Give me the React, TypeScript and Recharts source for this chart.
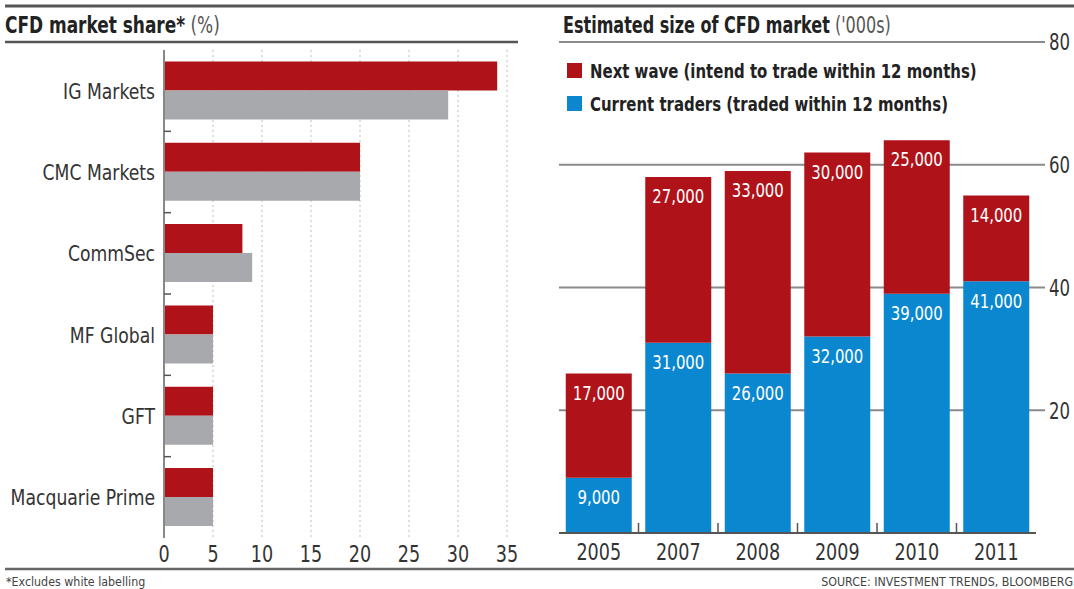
import React from "react";
import {
  BarChart,
  Bar,
  XAxis,
  YAxis,
  CartesianGrid,
  LabelList,
  Legend,
} from "recharts";

const FONT = "'Liberation Sans Narrow', 'Arial Narrow', 'DejaVu Sans Condensed', sans-serif";

// Left chart: CFD market share (%)
const brokers = ["IG Markets", "CMC Markets", "CommSec", "MF Global", "GFT", "Macquarie Prime"];
const shareRed = [34, 20, 8, 5, 5, 5];
const shareGray = [29, 20, 9, 5, 5, 5];
const shareTicks = [0, 5, 10, 15, 20, 25, 30, 35];

// Right chart: Estimated size of CFD market ('000s)
const years = ["2005", "2007", "2008", "2009", "2010", "2011"];
const currentTraders = [9, 31, 26, 32, 39, 41];
const nextWave = [17, 27, 33, 30, 25, 14];
const sizeTicks = [20, 40, 60, 80];

const RED = "#B0121A";
const GRAY = "#A7A9AC";
const BLUE = "#0A87CF";

const leftData = brokers.map((name, i) => ({ name, red: shareRed[i], gray: shareGray[i] }));
const rightData = years.map((year, i) => ({ year, current: currentTraders[i], next: nextWave[i] }));

const fmtThousands = (v: any) => (Number(v) * 1000).toLocaleString("en-US");

// horizontally condensed text (the reference uses a tall condensed face)
const SText = (props: any) => {
  const { x, y, sx = 0.85, children, ...rest } = props;
  return (
    <g transform={`translate(${x},${y}) scale(${sx},1)`}>
      <text x={0} y={0} fontFamily={FONT} {...rest}>
        {children}
      </text>
    </g>
  );
};

const CatTick = (props: any) => {
  const { x, y, payload, index, visibleTicksCount } = props;
  const half = payload && payload.offset ? payload.offset : 0;
  return (
    <g>
      <SText x={x} y={y} sx={0.87} dy="0.36em" textAnchor="end" fontSize={22} fill="#333">
        {payload.value}
      </SText>
      {index < visibleTicksCount - 1 && (
        <line x1={x + 9} x2={x + 16} y1={y + half} y2={y + half} stroke="#555" strokeWidth={1.5} />
      )}
    </g>
  );
};

const ShareTick = (props: any) => {
  const { x, y, payload } = props;
  return (
    <SText x={x} y={y} sx={0.85} dy="0.71em" textAnchor="middle" fontSize={23} fill="#333">
      {payload.value}
    </SText>
  );
};

const YearTick = (props: any) => {
  const { x, y, payload, index, visibleTicksCount } = props;
  const half = payload && payload.offset ? payload.offset : 0;
  const axisY = y - 11;
  return (
    <g>
      <SText x={x} y={y} sx={0.85} dy="0.71em" textAnchor="middle" fontSize={23} fill="#333">
        {payload.value}
      </SText>
      {index < visibleTicksCount - 1 && (
        <line x1={x + half} x2={x + half} y1={axisY} y2={axisY - 10} stroke="#555" strokeWidth={1.5} />
      )}
    </g>
  );
};

const SizeTick = (props: any) => {
  const { x, y, payload } = props;
  return (
    <SText x={x} y={y} sx={0.8} dy="0.36em" textAnchor="start" fontSize={23} fill="#333">
      {payload.value}
    </SText>
  );
};

const ValueLabel = (props: any) => {
  const { x, y, width, value } = props;
  return (
    <SText x={x + width / 2} y={y + 12} sx={0.83} dy="0.71em" textAnchor="middle" fontSize={20} fill="#fff">
      {fmtThousands(value)}
    </SText>
  );
};

const LegendContent = (props: any) => {
  const items = [...(props.payload || [])].reverse();
  return (
    <div style={{ fontFamily: FONT }}>
      {items.map((it: any) => (
        <div key={it.value} style={{ display: "flex", alignItems: "center", height: 33 }}>
          <span style={{ width: 15, height: 15, background: it.color, marginRight: 8, display: "inline-block" }} />
          <span
            style={{
              fontWeight: "bold",
              fontSize: 20,
              color: "#222",
              whiteSpace: "nowrap",
              display: "inline-block",
              transform: "scaleX(0.83)",
              transformOrigin: "left center",
            }}
          >
            {it.value}
          </span>
        </div>
      ))}
    </div>
  );
};

export default function App() {
  return (
    <div
      style={{
        position: "absolute",
        left: 0,
        top: 0,
        width: 1074,
        height: 589,
        background: "#fff",
        fontFamily: FONT,
        overflow: "hidden",
      }}
    >
      <div style={{ position: "absolute", left: 0, top: 0 }}>
        <BarChart
          width={530}
          height={589}
          data={leftData}
          layout="vertical"
          margin={{ top: 50, right: 23, bottom: 21, left: 0 }}
          barCategoryGap="14%"
          barGap={0}
        >
          <CartesianGrid horizontal={false} stroke="#bdbdbd" strokeDasharray="2 3" />
          <XAxis
            type="number"
            domain={[0, 35]}
            ticks={shareTicks}
            height={30}
            axisLine={false}
            tickLine={false}
            tickSize={6}
            tickMargin={2}
            tick={<ShareTick />}
          />
          <YAxis
            type="category"
            dataKey="name"
            width={164}
            axisLine={{ stroke: "#888", strokeWidth: 2 }}
            tickLine={false}
            tickSize={6}
            tickMargin={3}
            tick={<CatTick />}
            interval={0}
          />
          <Bar dataKey="red" fill={RED} isAnimationActive={false} />
          <Bar dataKey="gray" fill={GRAY} isAnimationActive={false} />
        </BarChart>
      </div>

      <div style={{ position: "absolute", left: 540, top: 0 }}>
        <BarChart
          width={534}
          height={589}
          data={rightData}
          margin={{ top: 42, right: 0, bottom: 26, left: 19 }}
          barCategoryGap="8.5%"
        >
          <CartesianGrid vertical={false} stroke="#8a8a8a" strokeWidth={2} />
          <XAxis
            dataKey="year"
            height={30}
            axisLine={{ stroke: "#555", strokeWidth: 2 }}
            tickLine={false}
            tickSize={6}
            tickMargin={5}
            tick={<YearTick />}
            interval={0}
          />
          <YAxis
            orientation="right"
            domain={[0, 80]}
            ticks={sizeTicks}
            width={38}
            axisLine={false}
            tickLine={{ stroke: "#8a8a8a", strokeWidth: 2 }}
            tickSize={9}
            tickMargin={4}
            tick={<SizeTick />}
          />
          <Legend
            layout="horizontal"
            verticalAlign="middle"
            align="center"
            wrapperStyle={{ top: 54, left: 27, width: "auto" }}
            content={<LegendContent />}
          />
          <Bar
            dataKey="current"
            stackId="a"
            fill={BLUE}
            name="Current traders (traded within 12 months)"
            isAnimationActive={false}
          >
            <LabelList dataKey="current" content={<ValueLabel />} />
          </Bar>
          <Bar
            dataKey="next"
            stackId="a"
            fill={RED}
            name="Next wave (intend to trade within 12 months)"
            isAnimationActive={false}
          >
            <LabelList dataKey="next" content={<ValueLabel />} />
          </Bar>
        </BarChart>
      </div>

      <svg
        width={1074}
        height={589}
        style={{ position: "absolute", left: 0, top: 0, pointerEvents: "none" }}
      >
        <line x1={5} x2={1074} y1={6} y2={6} stroke="#555" strokeWidth={3} />
        <line x1={5} x2={518} y1={42} y2={42} stroke="#555" strokeWidth={2.5} />
        <line x1={5} x2={1074} y1={569} y2={569} stroke="#666" strokeWidth={2.5} />
        <SText x={5} y={33} sx={0.82} fontSize={23}>
          <tspan fontWeight="bold" fill="#222">CFD market share*</tspan>
          <tspan fill="#555"> (%)</tspan>
        </SText>
        <SText x={563} y={33} sx={0.775} fontSize={23}>
          <tspan fontWeight="bold" fill="#222">Estimated size of CFD market</tspan>
          <tspan fill="#555"> ('000s)</tspan>
        </SText>
        <SText x={6} y={586} sx={0.95} fontSize={13} fill="#444">
          *Excludes white labelling
        </SText>
        <SText x={1073} y={586} sx={0.95} fontSize={13} fill="#444" textAnchor="end">
          SOURCE: INVESTMENT TRENDS, BLOOMBERG
        </SText>
      </svg>
    </div>
  );
}
